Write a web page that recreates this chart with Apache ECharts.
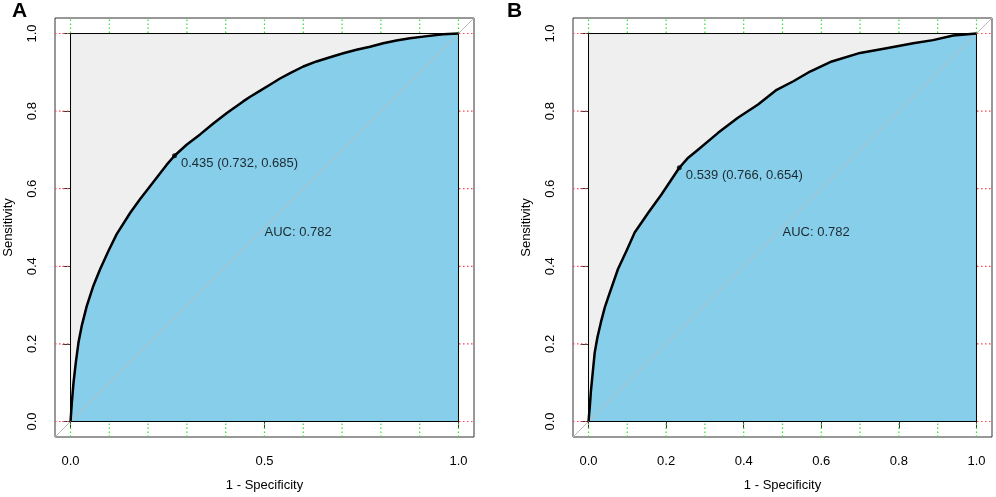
<!DOCTYPE html>
<html>
<head>
<meta charset="utf-8">
<script src="https://cdn.jsdelivr.net/npm/echarts@6/dist/echarts.min.js"></script>
<style>
  html, body { margin: 0; padding: 0; background: #fff; }
  #main { width: 996px; height: 497px; }
</style>
</head>
<body>
<div id="main"></div>
<script>
// ROC curve A : 1 - specificity / sensitivity
var fprA = [0, 0.0035, 0.0078, 0.0138, 0.0206, 0.029, 0.042, 0.059, 0.0765, 0.098, 0.119, 0.154, 0.179, 0.214, 0.248, 0.268, 0.300, 0.334, 0.368, 0.403, 0.445, 0.463, 0.488, 0.514, 0.540, 0.566, 0.600, 0.634, 0.669, 0.703, 0.737, 0.772, 0.806, 0.840, 0.875, 0.909, 0.960, 1];
var tprA = [0, 0.050, 0.101, 0.153, 0.204, 0.247, 0.298, 0.350, 0.393, 0.440, 0.483, 0.538, 0.573, 0.618, 0.662, 0.685, 0.714, 0.740, 0.768, 0.795, 0.825, 0.837, 0.852, 0.868, 0.884, 0.898, 0.915, 0.928, 0.939, 0.949, 0.958, 0.966, 0.975, 0.982, 0.988, 0.992, 0.998, 1];
// ROC curve B
var fprB = [0, 0.0035, 0.006, 0.011, 0.016, 0.023, 0.032, 0.042, 0.052, 0.076, 0.098, 0.119, 0.154, 0.188, 0.234, 0.257, 0.283, 0.334, 0.385, 0.437, 0.485, 0.528, 0.571, 0.627, 0.700, 0.768, 0.837, 0.888, 0.940, 1];
var tprB = [0, 0.041, 0.076, 0.127, 0.178, 0.217, 0.256, 0.294, 0.324, 0.393, 0.440, 0.487, 0.538, 0.585, 0.654, 0.680, 0.701, 0.744, 0.783, 0.817, 0.855, 0.877, 0.902, 0.928, 0.950, 0.962, 0.975, 0.983, 0.995, 1];

// best threshold points: threshold, specificity, sensitivity
var bestA = [0.435, 0.732, 0.685];
var bestB = [0.539, 0.766, 0.654];
var aucA = 0.782, aucB = 0.782;

// ticks / grid
var xTicksA = [0, 0.5, 1];
var xTicksB = [0, 0.2, 0.4, 0.6, 0.8, 1];
var yTicks = [0, 0.2, 0.4, 0.6, 0.8, 1];
var gridX = [0, 0.1, 0.2, 0.3, 0.4, 0.5, 0.6, 0.7, 0.8, 0.9, 1];
var gridY = [0, 0.2, 0.4, 0.6, 0.8, 1];

var lo = -0.04, hi = 1.04;
var font = 'Liberation Sans, Arial, sans-serif';

var chart = echarts.init(document.getElementById('main'));

function zip(a, b) {
    return a.map(function (v, i) { return [v, b[i]]; });
}

function xAxisOf(idx, ticks) {
    return {
        gridIndex: idx, type: 'value', min: lo, max: hi,
        name: '1 - Specificity', nameLocation: 'middle', nameGap: 42,
        nameTextStyle: { fontFamily: font, fontSize: 13, color: '#000' },
        axisLine: { show: false },
        axisTick: { show: true, length: 7, customValues: ticks, lineStyle: { color: '#333' } },
        axisLabel: {
            customValues: ticks, margin: 18, fontFamily: font, fontSize: 13, color: '#000',
            formatter: function (v) { return v.toFixed(1); }
        },
        splitLine: { show: false }
    };
}

function yAxisOf(idx) {
    return {
        gridIndex: idx, type: 'value', min: lo, max: hi,
        name: 'Sensitivity', nameLocation: 'middle', nameGap: 40,
        nameTextStyle: { fontFamily: font, fontSize: 13, color: '#000' },
        axisLine: { show: false },
        axisTick: { show: true, length: 8, customValues: yTicks, lineStyle: { color: '#333' } },
        axisLabel: {
            customValues: yTicks, rotate: 90, margin: 16, fontFamily: font, fontSize: 13, color: '#000',
            formatter: function (v) { return v.toFixed(1); }
        },
        splitLine: { show: false }
    };
}

// polygon drawn through the axes
function polySeries(idx, pts, fill, z) {
    return {
        type: 'custom', xAxisIndex: idx, yAxisIndex: idx, z: z, silent: true,
        data: [pts[0]],
        renderItem: function (params, api) {
            var p = pts.map(function (d) { return api.coord(d); });
            return {
                type: 'polygon', shape: { points: p },
                style: { fill: fill, stroke: '#000', lineWidth: 1 }
            };
        }
    };
}

// one dotted grid line, under everything
function gridLine(idx, v, vertical, color) {
    return {
        type: 'line', xAxisIndex: idx, yAxisIndex: idx, z: 1, silent: true,
        showSymbol: false, color: color,
        data: vertical ? [[v, lo], [v, hi]] : [[lo, v], [hi, v]],
        lineStyle: { color: color, width: 1.2, type: [1.5, 2.5] }
    };
}

function panelSeries(idx, fpr, tpr, best, auc) {
    var curve = zip(fpr, tpr);
    var under = curve.concat([[1, 0], [0, 0]]);
    var out = [];
    gridX.forEach(function (v) { out.push(gridLine(idx, v, true, '#33dd33')); });
    gridY.forEach(function (v) { out.push(gridLine(idx, v, false, '#ff4455')); });
    out.push(polySeries(idx, [[0, 0], [0, 1], [1, 1], [1, 0]], '#EFEFEF', 2));
    out.push(polySeries(idx, under, '#87CEEB', 3));
    // identity line
    out.push({
        type: 'line', xAxisIndex: idx, yAxisIndex: idx, z: 4, silent: true,
        data: [[lo, lo], [hi, hi]], showSymbol: false,
        lineStyle: { color: '#BBBBBB', width: 1 }
    });
    out.push({
        type: 'line', xAxisIndex: idx, yAxisIndex: idx, z: 5, silent: true,
        data: curve, showSymbol: false,
        lineStyle: { color: '#000', width: 2.5, join: 'round' }
    });
    out.push({
        type: 'scatter', xAxisIndex: idx, yAxisIndex: idx, z: 6, silent: true,
        symbolSize: 5, itemStyle: { color: '#000' },
        data: [[1 - best[1], best[2]]],
        label: {
            show: true, position: 'right', distance: 4, offset: [0, 8],
            fontFamily: font, fontSize: 13, color: '#000',
            formatter: best[0].toFixed(3) + ' (' + best[1].toFixed(3) + ', ' + best[2].toFixed(3) + ')'
        }
    });
    out.push({
        type: 'scatter', xAxisIndex: idx, yAxisIndex: idx, z: 6, silent: true,
        symbolSize: 0, data: [[0.5, 0.487]],
        label: {
            show: true, position: 'right', distance: 0,
            fontFamily: font, fontSize: 13, color: '#000',
            formatter: 'AUC: ' + auc.toFixed(3)
        }
    });
    return out;
}

var option = {
    animation: false,
    backgroundColor: '#fff',
    grid: [
        { left: 55, top: 18, width: 419, height: 420, show: true, borderColor: '#333', borderWidth: 1, backgroundColor: '#fff' },
        { left: 573, top: 18, width: 419, height: 420, show: true, borderColor: '#333', borderWidth: 1, backgroundColor: '#fff' }
    ],
    xAxis: [xAxisOf(0, xTicksA), xAxisOf(1, xTicksB)],
    yAxis: [yAxisOf(0), yAxisOf(1)],
    graphic: [
        { type: 'text', left: 12, top: 1, style: { text: 'A', font: 'bold 21px ' + font, fill: '#000' } },
        { type: 'text', left: 507, top: 1, style: { text: 'B', font: 'bold 21px ' + font, fill: '#000' } }
    ],
    series: panelSeries(0, fprA, tprA, bestA, aucA).concat(panelSeries(1, fprB, tprB, bestB, aucB))
};

chart.setOption(option);
</script>
</body>
</html>
